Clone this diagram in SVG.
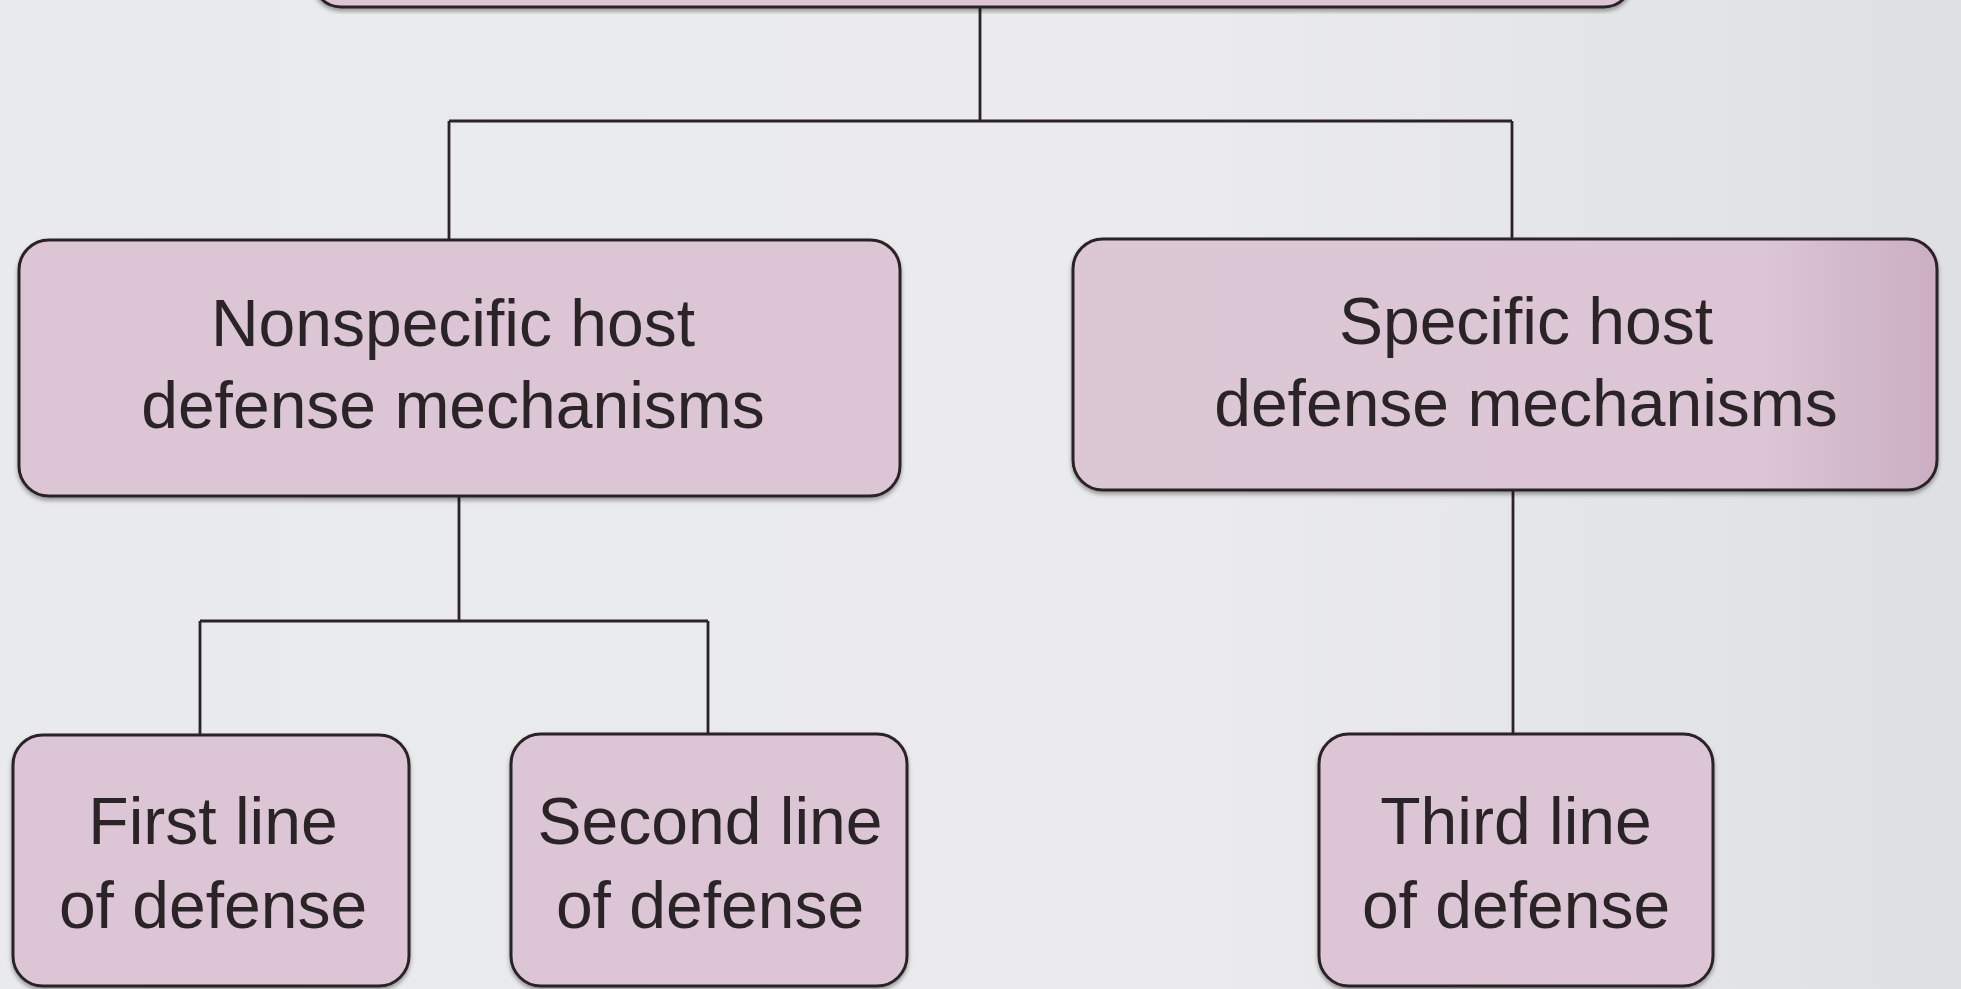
<svg xmlns="http://www.w3.org/2000/svg" width="1961" height="989" viewBox="0 0 1961 989">
<defs>
<linearGradient id="bg" x1="0" y1="0" x2="1" y2="0">
<stop offset="0" stop-color="#e9eaec"/>
<stop offset="0.6" stop-color="#ebebed"/>
<stop offset="1" stop-color="#dfe0e3"/>
</linearGradient>
<linearGradient id="specGrad" x1="0" y1="0" x2="1" y2="0">
<stop offset="0" stop-color="#dcc7d5"/>
<stop offset="0.8" stop-color="#dcc6d5"/>
<stop offset="0.88" stop-color="#d4bccd"/>
<stop offset="1" stop-color="#cbaec2"/>
</linearGradient>
<filter id="sh" x="-5%" y="-5%" width="110%" height="115%">
<feDropShadow dx="0" dy="3" stdDeviation="2" flood-color="#000" flood-opacity="0.35"/>
</filter>
</defs>
<style>
.box{fill:#dcc6d5;stroke:#2b2327;stroke-width:3;filter:url(#sh)}
.lbl{font-family:"Liberation Sans",Arial,Helvetica,sans-serif;font-size:66px;fill:#2b2427;text-anchor:middle}
.conn{fill:none;stroke:#2b2327;stroke-width:2.8}
</style>
<rect x="0" y="0" width="1961" height="989" fill="url(#bg)"/>

<g id="connectors">
<path class="conn" d="M980 8 V121 M449 121 H1512 M449 121 V240 M1512 121 V239"/>
<path class="conn" d="M459 496 V621 M200 621 H708 M200 621 V735 M708 621 V734"/>
<path class="conn" d="M1513 490 V734"/>
</g>

<g id="top">
<rect class="box" x="313" y="-60" width="1319" height="67" rx="28"/>
</g>

<g id="nonspecific">
<rect class="box" x="19" y="240" width="881" height="256" rx="30"/>
<text class="lbl" x="453" y="346">Nonspecific host</text>
<text class="lbl" x="453" y="428">defense mechanisms</text>
</g>

<g id="specific">
<rect class="box" x="1073" y="239" width="864" height="251" rx="30" style="fill:url(#specGrad)"/>
<text class="lbl" x="1526" y="344">Specific host</text>
<text class="lbl" x="1526" y="426">defense mechanisms</text>
</g>

<g id="first">
<rect class="box" x="13" y="735" width="396" height="251" rx="30"/>
<text class="lbl" x="213" y="844">First line</text>
<text class="lbl" x="213" y="928">of defense</text>
</g>

<g id="second">
<rect class="box" x="511" y="734" width="396" height="252" rx="30"/>
<text class="lbl" x="710" y="844">Second line</text>
<text class="lbl" x="710" y="928">of defense</text>
</g>

<g id="third">
<rect class="box" x="1319" y="734" width="394" height="252" rx="30"/>
<text class="lbl" x="1516" y="844">Third line</text>
<text class="lbl" x="1516" y="928">of defense</text>
</g>
</svg>
